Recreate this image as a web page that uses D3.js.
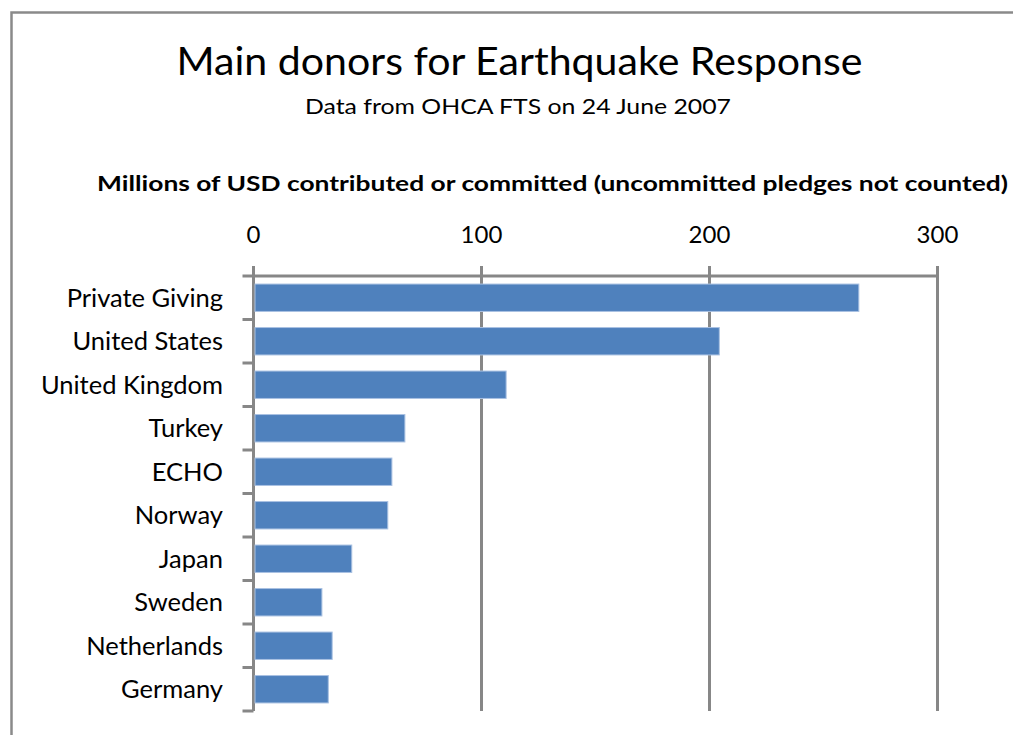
<!DOCTYPE html>
<html>
<head>
<meta charset="utf-8">
<script src="https://cdn.jsdelivr.net/npm/d3@7"></script>
<style>
  html, body { margin: 0; padding: 0; background: #fff; }
  svg { display: block; }
  text { font-family: Lato, "Open Sans", sans-serif; fill: #000; }
</style>
</head>
<body>
<svg id="chart" width="1013" height="735"></svg>
<script>
// ---- data ----
const categories = ["Private Giving", "United States", "United Kingdom", "Turkey", "ECHO",
                    "Norway", "Japan", "Sweden", "Netherlands", "Germany"];
const values = [265.5, 204.3, 110.8, 66.4, 60.7, 58.9, 43.1, 30.0, 34.5, 32.8];
const tickValues = [0, 100, 200, 300];
const titleText = "Main donors for Earthquake Response";
const subtitleText = "Data from OHCA FTS on 24 June 2007";
const axisTitleText = "Millions of USD contributed or committed (uncommitted pledges not counted)";

// ---- layout ----
const W = 1013, H = 735;
const plot = { left: 253.5, right: 937.5, top: 276, bottom: 711 };
const gridColor = "#878787";

const svg = d3.select("#chart");

// outer chart border (extends beyond right/bottom edges)
svg.append("rect")
  .attr("x", 11.5).attr("y", 12.5)
  .attr("width", W + 20).attr("height", H + 20)
  .attr("fill", "#fff")
  .attr("stroke", "#8a8a8a").attr("stroke-width", 2.5);

const x = d3.scaleLinear().domain([0, 300]).range([plot.left, plot.right]);
const y = d3.scaleBand().domain(categories).range([plot.top, plot.bottom])
  .paddingInner(0.37).paddingOuter(0.185);

// titles
function fit(sel, target) {
  sel.attr("textLength", target).attr("lengthAdjust", "spacingAndGlyphs");
}
svg.append("text")
  .attr("x", 176.5).attr("y", 75)
  .attr("font-size", 38)
  .text(titleText)
  .call(fit, 686);

svg.append("text")
  .attr("x", 305).attr("y", 114)
  .attr("font-size", 21)
  .text(subtitleText)
  .call(fit, 426);

svg.append("text")
  .attr("x", 97).attr("y", 191)
  .attr("font-size", 21).attr("font-weight", "bold")
  .text(axisTitleText)
  .call(fit, 911);

// vertical gridlines (incl. value axis ticks above the axis line)
svg.append("g")
  .selectAll("line")
  .data(tickValues)
  .join("line")
  .attr("x1", d => x(d)).attr("x2", d => x(d))
  .attr("y1", plot.top - 10).attr("y2", plot.bottom)
  .attr("stroke", gridColor).attr("stroke-width", 3);

// top axis line
svg.append("line")
  .attr("x1", plot.left - 11).attr("x2", plot.right)
  .attr("y1", plot.top).attr("y2", plot.top)
  .attr("stroke", gridColor).attr("stroke-width", 3);

// top tick labels
svg.append("g")
  .selectAll("text")
  .data(tickValues)
  .join("text")
  .attr("x", d => x(d)).attr("y", 243)
  .attr("text-anchor", "middle")
  .attr("font-size", 24)
  .text(d => d3.format("d")(d));

// category boundary ticks on the left axis
const boundaries = categories.map(c => y(c) - y.step() * y.paddingInner() / 2);
boundaries.push(plot.bottom);
svg.append("g")
  .selectAll("line")
  .data(boundaries.slice(1))
  .join("line")
  .attr("x1", plot.left - 11).attr("x2", plot.left)
  .attr("y1", d => d).attr("y2", d => d)
  .attr("stroke", gridColor).attr("stroke-width", 3);

// bars
svg.append("g")
  .selectAll("rect")
  .data(categories.map((c, i) => ({ c, v: values[i] })))
  .join("rect")
  .attr("x", x(0) + 1.5)
  .attr("y", d => y(d.c))
  .attr("width", d => x(d.v) - x(0) - 1.5)
  .attr("height", y.bandwidth())
  .attr("fill", "#4F81BD")
  .attr("stroke", "#a9c1e2").attr("stroke-width", 1);

// category labels
svg.append("g")
  .selectAll("text")
  .data(categories)
  .join("text")
  .attr("x", 223).attr("y", d => y(d) + y.bandwidth() / 2)
  .attr("dy", "0.36em")
  .attr("text-anchor", "end")
  .attr("font-size", 25.5)
  .text(d => d);
</script>
</body>
</html>
